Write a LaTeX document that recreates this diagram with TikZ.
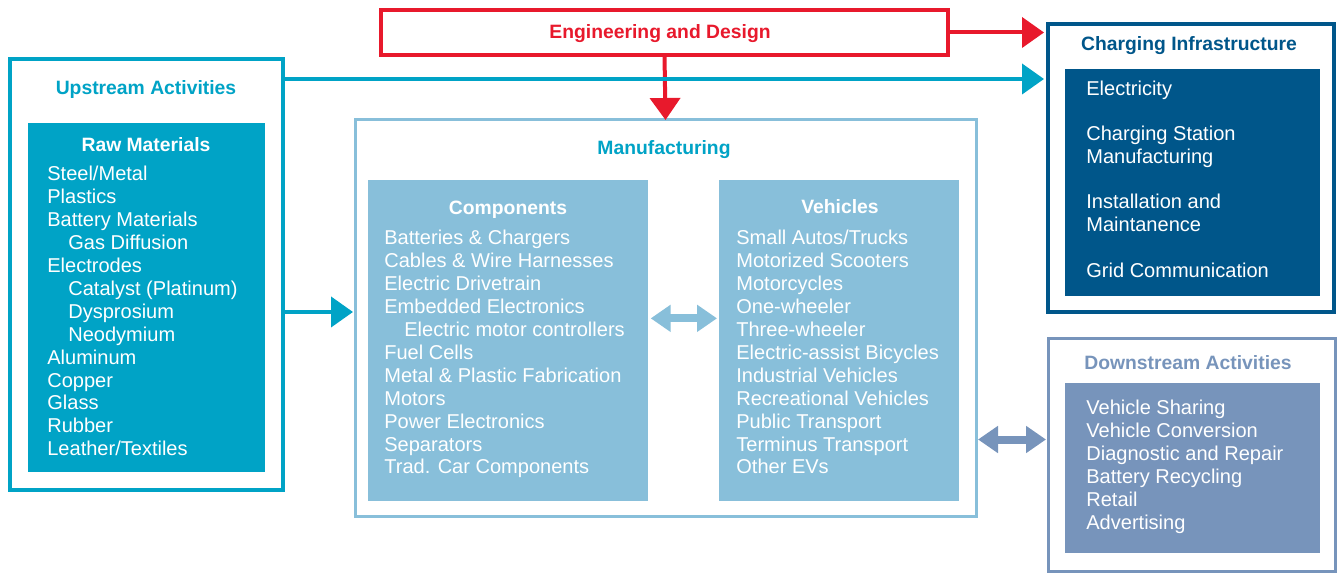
\documentclass[tikz,border=0pt]{standalone}
\usepackage{fontspec}
\setmainfont{Liberation Sans}
\usetikzlibrary{arrows.meta}
\definecolor{upteal}{HTML}{00A3C6}
\definecolor{engred}{HTML}{E8192C}
\definecolor{mfgblue}{HTML}{88BFDA}
\definecolor{chgblue}{HTML}{00568A}
\definecolor{dwnblue}{HTML}{7794BB}
% one white line per entry, baselines 22.9 apart
\newcommand{\entries}[4]{%
  \foreach \lbl [count=\row] in {#4}
    \node[entry] (#1\row) at (#2,#3+22.9*\row-22.9) {\lbl};}

\begin{document}
\begin{tikzpicture}[x=0.02cm,y=-0.02cm,
  size/.style 2 args={minimum width=#1*0.02cm,minimum height=#2*0.02cm},
  frame/.style={draw=#1,line width=0.08cm,fill=white,anchor=north west,inner sep=0pt,outer sep=0pt},
  panel/.style={fill=#1,anchor=north west,inner sep=0pt},
  head/.style={font=\fontsize{11}{13}\selectfont\bfseries,text=#1,inner sep=0pt,anchor=base},
  entry/.style={font=\fontsize{11.4}{13}\selectfont,text=white,anchor=base west,inner sep=0pt},
  link/.style={draw=#1,line width=0.08cm,-{Triangle[length=0.44cm,width=0.6cm]}},
  both/.style={draw=#1,line width=0.16cm,{Triangle[length=0.4cm,width=0.52cm]}-{Triangle[length=0.4cm,width=0.52cm]},shorten <=0.04cm,shorten >=0.04cm}]
\useasboundingbox (0,0) rectangle (1337,573);

% frames and panels
\node[frame=upteal,size={273}{431}] (up) at (10,59) {};
\node[panel=upteal,size={237}{349}] (raw) at (28,123) {};
\node[frame=engred,size={567}{45}] (eng) at (381,10) {};
\node[frame=mfgblue,line width=0.06cm,size={621}{396}] (mfg) at (355,120) {};
\node[panel=mfgblue,size={280}{321}] (comp) at (368,180) {};
\node[panel=mfgblue,size={240}{321}] (veh) at (719,180) {};
\node[frame=chgblue,size={286}{288}] (chg) at (1048,24) {};
\node[panel=chgblue,size={255}{227}] (chgin) at (1065,69) {};
\node[frame=dwnblue,line width=0.06cm,size={287}{232}] (dwn) at (1048,339) {};
\node[panel=dwnblue,size={255}{170}] (dwnin) at (1065,383) {};

% headings
\node[head=upteal] (upT) at (146,95) {Upstream Activities};
\node[head=white] (rawT) at (146,152) {Raw Materials};
\node[head=engred] (engT) at (660,39) {Engineering and Design};
\node[head=upteal] (mfgT) at (664,155) {Manufacturing};
\node[head=white] (compT) at (508,215) {Components};
\node[head=white] (vehT) at (840,214) {Vehicles};
\node[head=chgblue] (chgT) at (1189,51) {Charging Infrastructure};
\node[head=dwnblue] (dwnT) at (1188,370) {Downstream Activities};

% lists
\entries{raw}{47}{181}{Steel/Metal, Plastics, Battery Materials,
  {\hspace*{0.42cm}Gas Diffusion}, Electrodes, {\hspace*{0.42cm}Catalyst (Platinum)},
  {\hspace*{0.42cm}Dysprosium}, {\hspace*{0.42cm}Neodymium}, Aluminum, Copper,
  Glass, Rubber, Leather/Textiles}
\entries{comp}{384}{245}{Batteries \& Chargers, Cables \& Wire Harnesses,
  Electric Drivetrain, Embedded Electronics, {\hspace*{0.4cm}Electric motor controllers},
  Fuel Cells, Metal \& Plastic Fabrication, Motors, Power Electronics, Separators,
  Trad. Car Components}
\entries{veh}{736}{245}{Small Autos/Trucks, Motorized Scooters, Motorcycles,
  One-wheeler, Three-wheeler, Electric-assist Bicycles, Industrial Vehicles,
  Recreational Vehicles, Public Transport, Terminus Transport, Other EVs}
\foreach \yy/\lbl [count=\row] in {96/Electricity, 141/Charging Station,
  164/Manufacturing, 209/Installation and, 232/Maintanence, 278/Grid Communication}
  \node[entry] (chg\row) at (1086,\yy) {\lbl};
\entries{dwn}{1086}{415}{Vehicle Sharing, Vehicle Conversion, Diagnostic and Repair,
  Battery Recycling, Retail, Advertising}

% connectors
\draw[link=engred,shorten >=0.08cm] (eng.east) -- (eng.east -| chg.west);
\draw[link=engred] (eng.south) -- (mfg.north);
\draw[link=upteal,shorten >=0.08cm] ([yshift=-0.4cm]up.north east) coordinate (u0) -- (u0 -| chg.west);
\draw[link=upteal,shorten >=0.04cm] ([yshift=-0.75cm]up.east) coordinate (u1) -- (u1 -| mfg.west);
\draw[both=mfgblue] ([yshift=0.45cm]comp.east) coordinate (c0) -- (c0 -| veh.west);
\draw[both=dwnblue] ([yshift=0.31cm]dwn.west) coordinate (d0) -- (d0 -| mfg.east);
\end{tikzpicture}
\end{document}
